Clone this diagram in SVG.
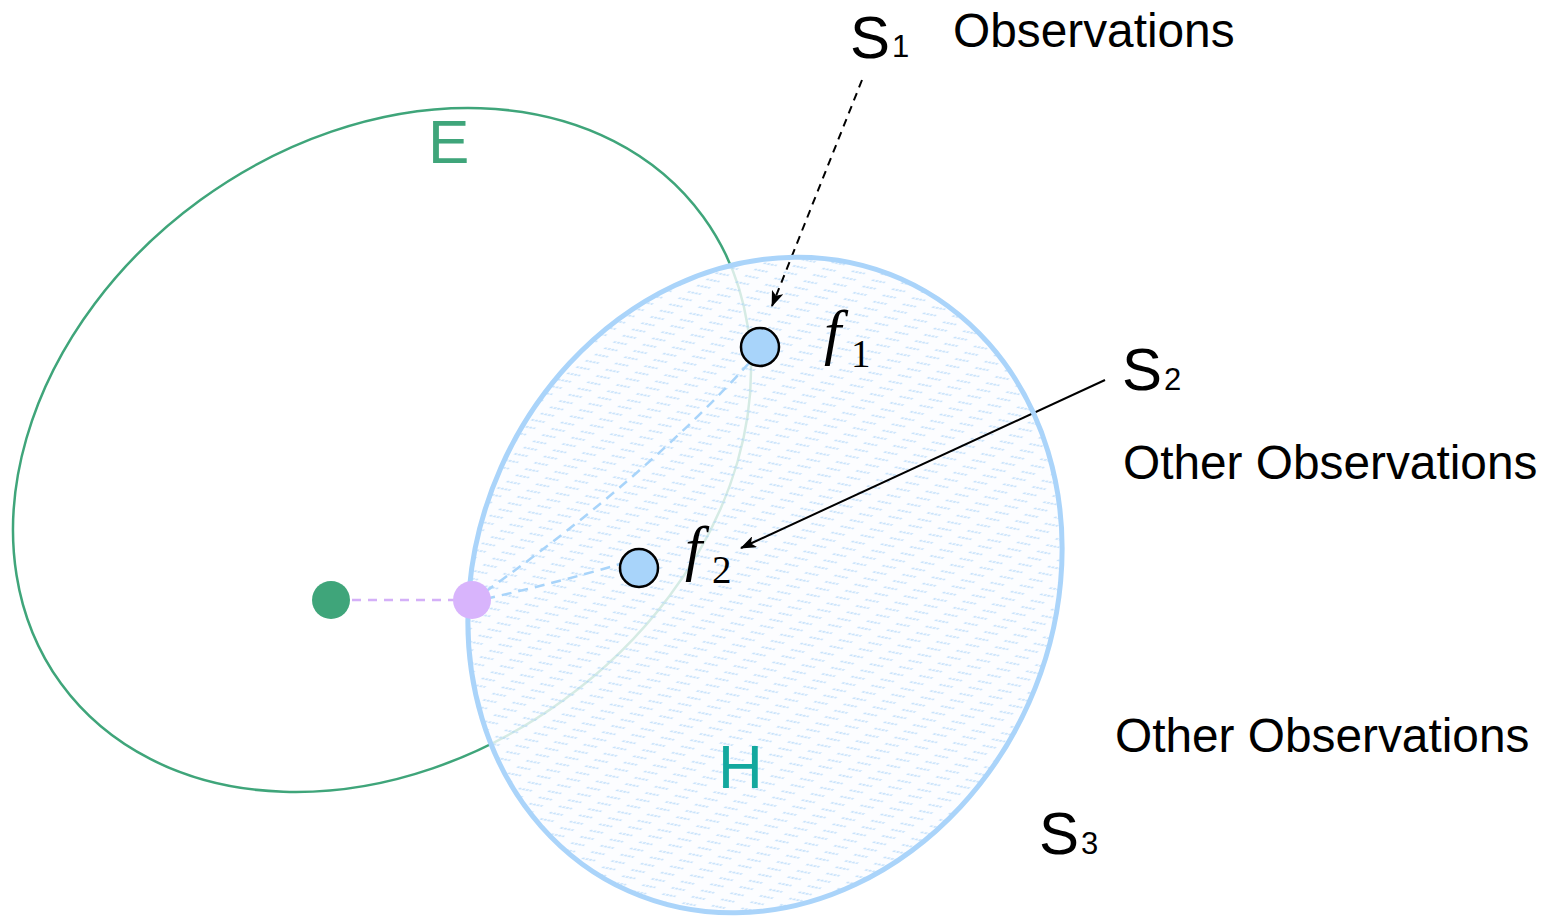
<svg xmlns="http://www.w3.org/2000/svg" width="1554" height="916" viewBox="0 0 1554 916">
  <style>
    .lbl { font-family: "Liberation Sans", Arial, sans-serif; fill: #000; }
    .big { font-size: 60px; }
    .sub { font-size: 31px; }
    .obs { font-size: 47.8px; }
    .math { font-family: "Liberation Serif", "Times New Roman", serif; fill: #000; }
    .fi { font-style: italic; font-size: 62px; }
    .fs { font-size: 39px; }
    .pt { stroke: #000; stroke-width: 2.5; fill: #a8d4fa; }
  </style>
  <defs>
    <pattern id="hatch" patternUnits="userSpaceOnUse" width="22" height="9.5" patternTransform="skewX(-32)">
      <line x1="1" y1="6.5" x2="12" y2="3.5" stroke="#a6d1f8" stroke-width="2.2" stroke-dasharray="2.2 1"/>
    </pattern>
    <marker id="arr" viewBox="0 0 16 12" refX="15" refY="6" markerWidth="16" markerHeight="12" markerUnits="userSpaceOnUse" orient="auto">
      <path d="M0,0 L16,6 L0,12 L4,6 Z" fill="#000"/>
    </marker>
  </defs>

  <g id="E">
    <ellipse cx="382" cy="450" rx="397" ry="309" transform="rotate(-36 382 450)" fill="none" stroke="#3fa57a" stroke-width="2.5"/>
    <text x="428" y="163" font-family="Liberation Sans, Arial, sans-serif" font-size="62" fill="#3fa57a">E</text>
  </g>

  <g id="H">
    <ellipse cx="765" cy="585" rx="289" ry="335" transform="rotate(24 765 585)" fill="#fbfdff" fill-opacity="0.8"/>
    <ellipse cx="765" cy="585" rx="289" ry="335" transform="rotate(24 765 585)" fill="url(#hatch)" fill-opacity="0.6"/>
  </g>

  <g id="connectors">
    <line x1="352" y1="600" x2="456" y2="600" stroke="#d4b0f8" stroke-width="2.5" stroke-dasharray="9 7"/>
    <path d="M485,592 Q645,478 750,362" fill="none" stroke="#a8d4fa" stroke-width="2.5" stroke-dasharray="10 7"/>
    <path d="M485,599 Q560,582 620,564" fill="none" stroke="#a8d4fa" stroke-width="2.5" stroke-dasharray="10 7"/>
    <line x1="862" y1="80" x2="772" y2="306" stroke="#000" stroke-width="2" stroke-dasharray="8 6" marker-end="url(#arr)"/>
    <line x1="1105" y1="380" x2="741" y2="548" stroke="#000" stroke-width="2" marker-end="url(#arr)"/>
  </g>

  <g id="H-outline">
    <ellipse cx="765" cy="585" rx="289" ry="335" transform="rotate(24 765 585)" fill="none" stroke="#aad4fa" stroke-width="5"/>
    <text x="718" y="788" font-family="Liberation Sans, Arial, sans-serif" font-size="62" fill="#13a89e">H</text>
  </g>

  <g id="green-dot"><circle cx="331" cy="600" r="19" fill="#3fa57a"/></g>
  <g id="purple-dot"><circle cx="472" cy="600" r="19" fill="#d8b4fc"/></g>

  <g id="f1">
    <circle class="pt" cx="760" cy="347" r="19"/>
    <text class="math fi" x="824" y="353">f</text>
    <text class="math fs" x="851" y="367">1</text>
  </g>
  <g id="f2">
    <circle class="pt" cx="639" cy="568" r="19"/>
    <text class="math fi" x="685" y="569">f</text>
    <text class="math fs" x="712" y="583">2</text>
  </g>

  <g id="S1">
    <text class="lbl big" x="850" y="58">S</text>
    <text class="lbl sub" x="892" y="57">1</text>
    <text class="lbl obs" x="953" y="47">Observations</text>
  </g>
  <g id="S2">
    <text class="lbl big" x="1122" y="390">S</text>
    <text class="lbl sub" x="1164" y="390">2</text>
    <text class="lbl obs" x="1123" y="479">Other Observations</text>
  </g>
  <g id="S3">
    <text class="lbl obs" x="1115" y="752">Other Observations</text>
    <text class="lbl big" x="1039" y="854">S</text>
    <text class="lbl sub" x="1081" y="854">3</text>
  </g>
</svg>
